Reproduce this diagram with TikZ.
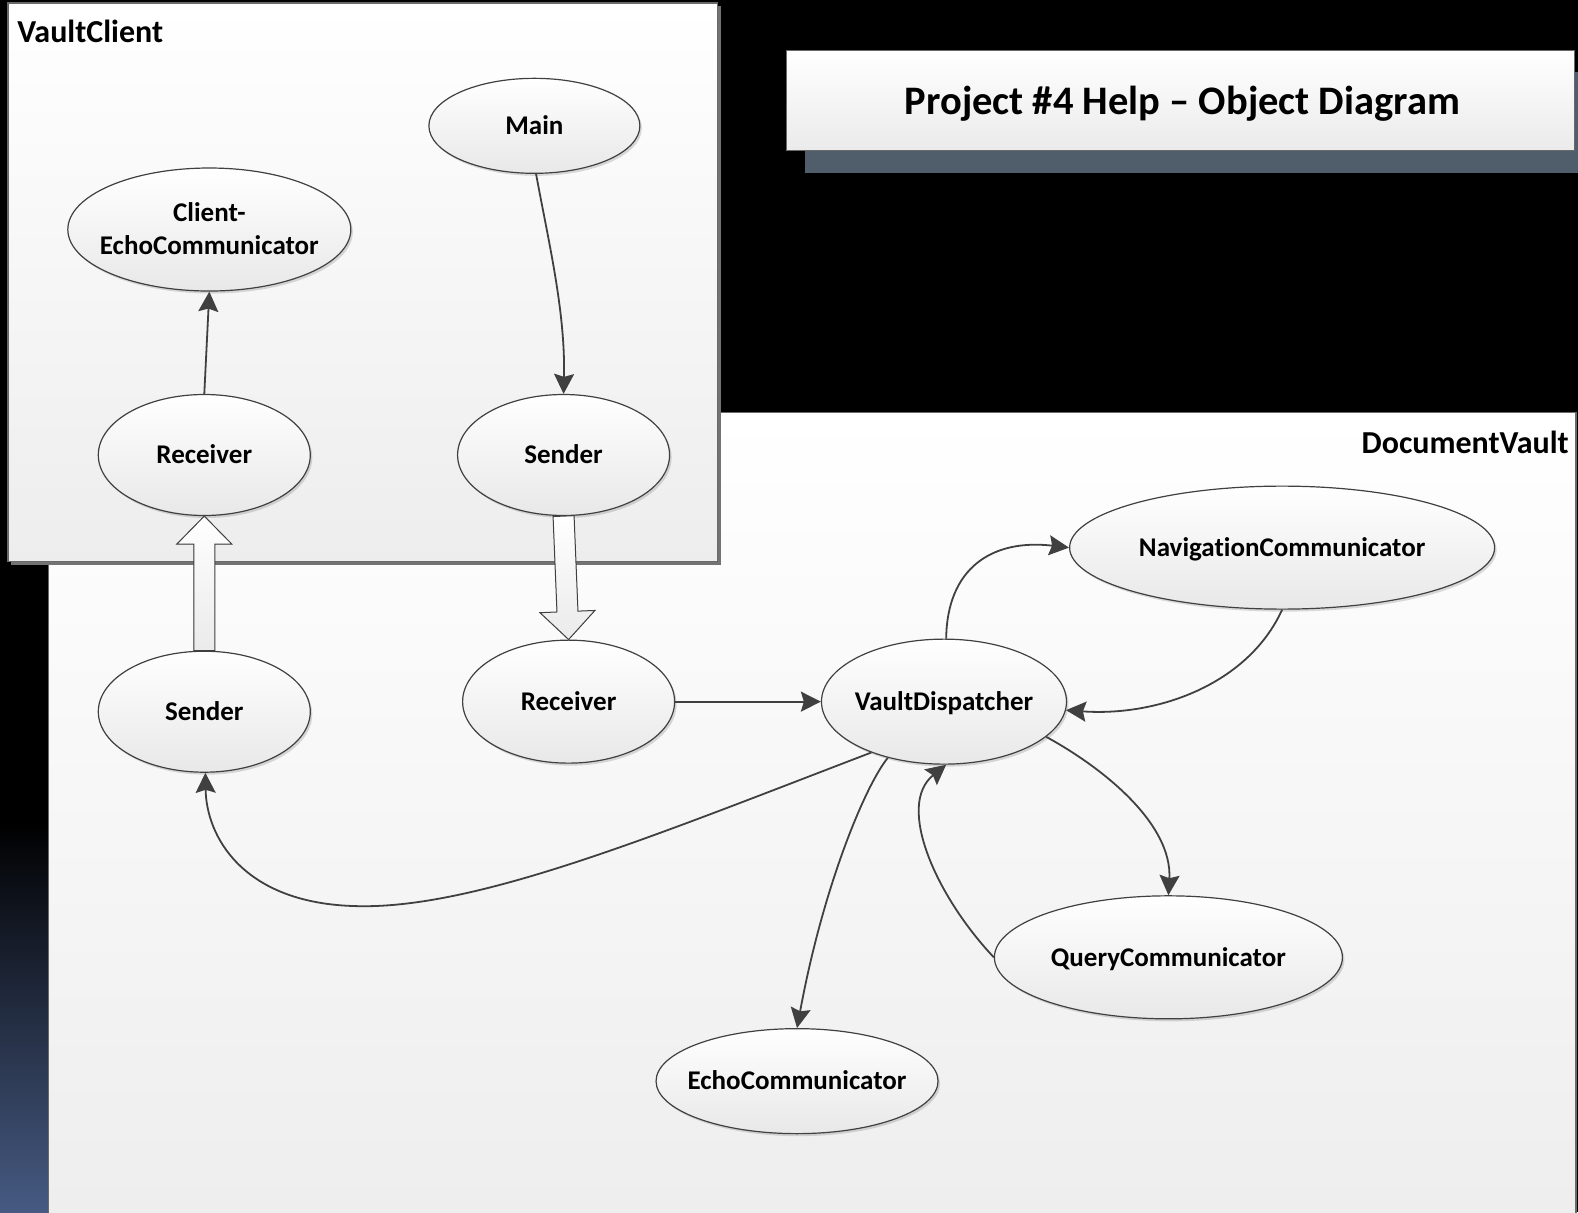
\documentclass[tikz,border=0pt]{standalone}
\usepackage{fontspec}
\setmainfont{Carlito}[Ligatures=NoCommon]
\usetikzlibrary{shapes.geometric,arrows.meta,calc,shadows}

\definecolor{edgegray}{RGB}{64,64,64}
\definecolor{boxline}{RGB}{105,105,105}
\definecolor{slate}{RGB}{80,94,108}
\definecolor{stripblue}{RGB}{70,90,130}

\tikzset{
  obj/.style={ellipse, draw=edgegray, line width=1.2pt, inner sep=0pt,
    top color=white, bottom color=black!9,
    drop shadow={shadow xshift=2pt, shadow yshift=-2.5pt, opacity=0.2, fill=black!70}},
  objtext/.style={font=\fontsize{27}{33}\selectfont\bfseries, inner sep=0pt,
    text height=17.5pt, text depth=0pt},
  link/.style={draw=edgegray, line width=1.8pt,
    -{Stealth[length=20pt, width=20pt, inset=3pt]}},
  blockarrow/.style={draw=edgegray, line width=1pt, line join=miter,
    top color=white, bottom color=black!8},
  panel/.style={draw=boxline, line width=1.2pt, top color=white, bottom color=black!7},
  panellabel/.style={font=\fontsize{32}{37}\selectfont\bfseries, inner sep=0pt},
}

\begin{document}
\begin{tikzpicture}[x=1.00638pt, y=-1.00665pt]
\useasboundingbox (0,0) rectangle (1568,1204);

% backdrop
\fill[black] (0,0) rectangle (1568,1204);
\shade[top color=black, bottom color=stripblue] (0,815) rectangle (48,1204);

% DocumentVault panel
\draw[panel] (48,410) rectangle (1566,1240);
\node[panellabel, anchor=east] (dvlabel) at (1559,439) {DocumentVault};

% VaultClient panel with its shadow
\fill[black!55] (11,6) rectangle (716,561);
\draw[panel] (8,3) rectangle (713,558);
\node[panellabel, anchor=west] (vclabel) at (17,31) {VaultClient};

% title banner
\fill[slate] (800,72) rectangle (1580,172);
\draw[draw=boxline, line width=1pt, top color=white, bottom color=black!8] (782,50) rectangle (1565,150);
\node[font=\fontsize{40.5}{46}\selectfont\bfseries, inner sep=0pt] (title) at (1175,103)
  {Project \#4 Help – Object Diagram};

% objects of the client
\node[obj, minimum width=211pt, minimum height=95pt,
  label={[objtext]center:Main}] (main) at (531,125) {};
\node[obj, minimum width=283pt, minimum height=123pt,
  label={[objtext, text height={}, text depth={}, align=center, yshift=1pt]center:Client-\\EchoCommunicator}] (cecho) at (208,228) {};
\node[obj, minimum width=212pt, minimum height=121pt,
  label={[objtext]center:Receiver}] (crecv) at (203,452) {};
\node[obj, minimum width=212pt, minimum height=121pt,
  label={[objtext]center:Sender}] (csend) at (560,452) {};

% objects of the vault
\node[obj, minimum width=212pt, minimum height=121pt,
  label={[objtext]center:Sender}] (vsend) at (203,707) {};
\node[obj, minimum width=212pt, minimum height=123pt,
  label={[objtext]center:Receiver}] (vrecv) at (565,697) {};
\node[obj, minimum width=245pt, minimum height=125pt,
  label={[objtext]center:VaultDispatcher}] (disp) at (938,697) {};
\node[obj, minimum width=425pt, minimum height=123pt,
  label={[objtext]center:NavigationCommunicator}] (nav) at (1274,544) {};
\node[obj, minimum width=348pt, minimum height=123pt,
  label={[objtext]center:QueryCommunicator}] (query) at (1161,951) {};
\node[obj, minimum width=282pt, minimum height=105pt,
  label={[objtext]center:EchoCommunicator}] (echo) at (792,1074) {};

% hollow block arrows between the two processes
\coordinate (upHead) at ($(crecv.south)!28pt!(vsend.north)$);
\filldraw[blockarrow]
  ($(vsend.north)!10.5pt!90:(crecv.south)$) --
  ($(upHead)!10.5pt!-90:(vsend.north)$) --
  ($(upHead)!27.5pt!-90:(vsend.north)$) --
  (crecv.south) --
  ($(upHead)!27.5pt!90:(vsend.north)$) --
  ($(upHead)!10.5pt!90:(vsend.north)$) --
  ($(vsend.north)!10.5pt!-90:(crecv.south)$) -- cycle;

\coordinate (downHead) at ($(vrecv.north)!28pt!(csend.south)$);
\filldraw[blockarrow]
  ($(csend.south)!10.5pt!90:(vrecv.north)$) --
  ($(downHead)!10.5pt!-90:(csend.south)$) --
  ($(downHead)!27.5pt!-90:(csend.south)$) --
  (vrecv.north) --
  ($(downHead)!27.5pt!90:(csend.south)$) --
  ($(downHead)!10.5pt!90:(csend.south)$) --
  ($(csend.south)!10.5pt!-90:(vrecv.north)$) -- cycle;

% message flow
\draw[link] (main.-88) .. controls (545,240) and (562,310) .. (csend.north);
\draw[link] (crecv.north) -- (cecho.south);
\draw[link] (vrecv.east) -- (disp.west);
\draw[link] (disp.88) .. controls (941,565) and (985,535) .. (nav.west);
\draw[link] (nav.south) .. controls (1240,680) and (1150,712) .. (disp.-4);
\draw[link] (disp.-19) .. controls (1100,765) and (1165,820) .. (query.north);
\draw[link] (query.west) .. controls (930,890) and (890,800) .. (disp.-88);
\draw[link] (disp.-135) .. controls (860,780) and (818,880) .. (echo.north);
\draw[link] (disp.-145) .. controls (650,830) and (470,905) .. (350,900)
  .. controls (240,896) and (205,830) .. (vsend.-89);
\end{tikzpicture}
\end{document}
